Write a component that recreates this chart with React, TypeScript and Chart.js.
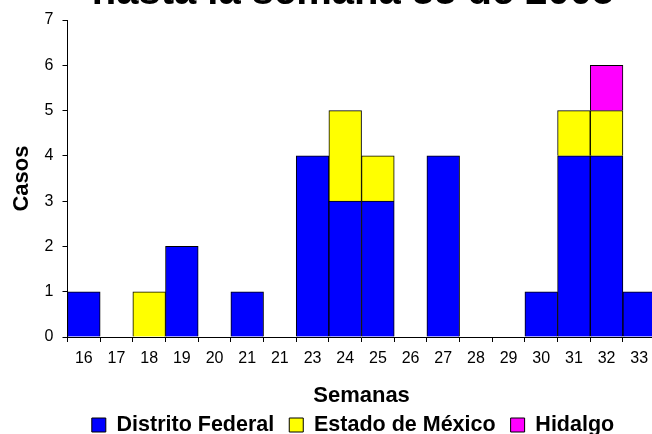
import React, { useEffect, useRef } from "react";
import { Chart, registerables } from "chart.js";

Chart.register(...registerables);

const weeks = ["16", "17", "18", "19", "20", "21", "21", "23", "24", "25", "26", "27", "28", "29", "30", "31", "32", "33"];
const distritoFederal = [1, null, null, 2, null, 1, null, 4, 3, 3, null, 4, null, null, 1, 4, 4, 1];
const estadoMexico = [null, null, 1, null, null, null, null, null, 2, 1, null, null, null, null, null, 1, 1, null];
const hidalgo = [null, null, null, null, null, null, null, null, null, null, null, null, null, null, null, null, 1, null];
const yMin = 0;
const yMax = 7;

const FONT = "'Liberation Sans', Arial, sans-serif";
const CANVAS_W = 706;
const CANVAS_H = 466;
const OFFSET_TOP = 31;

export default function App() {
  const ref = useRef<HTMLCanvasElement | null>(null);
  useEffect(() => {
    if (!ref.current) return;
    const chart = new Chart(ref.current, {
      type: "bar",
      data: {
        labels: weeks,
        datasets: [
          { label: "Distrito Federal", data: distritoFederal, backgroundColor: "#0000FF", borderColor: "#000", borderWidth: 1 },
          { label: "Estado de México", data: estadoMexico, backgroundColor: "#FFFF00", borderColor: "#000", borderWidth: 1 },
          { label: "Hidalgo", data: hidalgo, backgroundColor: "#FF00FF", borderColor: "#000", borderWidth: 1 },
        ],
      },
      options: {
        responsive: false,
        animation: false,
        devicePixelRatio: 1,
        layout: { padding: 0 },
        datasets: { bar: { barPercentage: 1, categoryPercentage: 1 } },
        plugins: {
          title: {
            display: true,
            text: "hasta la semana 33 de 2005",
            color: "#000",
            font: { family: FONT, size: 40, weight: "bold", lineHeight: 1.2 },
            padding: { top: 0, bottom: 3 },
          },
          legend: {
            position: "bottom",
            maxHeight: 35.75,
            labels: {
              color: "#000",
              font: { family: FONT, size: 21.5, weight: "bold" },
              boxWidth: 14,
              boxHeight: 14,
              padding: 15,
            },
          },
          tooltip: { enabled: false },
        },
        scales: {
          x: {
            stacked: true,
            offset: true,
            afterFit: (axis: any) => {
              axis.height = 62.25;
            },
            grid: { display: true, drawOnChartArea: false, offset: true, color: "#000", tickLength: 5, tickColor: "#000" },
            border: { color: "#000", width: 1 },
            ticks: { color: "#000", font: { family: FONT, size: 16 }, maxRotation: 0, autoSkip: false, padding: 7.4 },
            title: {
              display: true,
              text: "Semanas",
              color: "#000",
              font: { family: FONT, size: 22, weight: "bold", lineHeight: 0.34 },
              padding: { top: 0, bottom: 0 },
            },
          },
          y: {
            stacked: true,
            min: yMin,
            max: yMax,
            afterFit: (axis: any) => {
              axis.width = 67.5;
            },
            grid: { display: true, drawOnChartArea: false, color: "#000", tickLength: 5, tickColor: "#000" },
            border: { color: "#000", width: 1 },
            ticks: { color: "#000", font: { family: FONT, size: 16 }, padding: 9, stepSize: 1 },
            title: {
              display: true,
              text: "Casos",
              color: "#000",
              font: { family: FONT, size: 22, weight: "bold", lineHeight: 1.2 },
              padding: { top: 8.3, bottom: 0 },
            },
          },
          yRight: {
            type: "linear",
            position: "right",
            display: true,
            afterFit: (axis: any) => {
              axis.width = CANVAS_W - 655.6;
            },
            grid: { display: false },
            border: { display: false },
            ticks: { display: false },
          },
        },
      },
    });
    return () => chart.destroy();
  }, []);
  return (
    <div style={{ position: "fixed", left: 0, top: 0, width: 652, height: 434, overflow: "hidden", background: "#fff" }}>
      <canvas
        ref={ref}
        width={CANVAS_W}
        height={CANVAS_H}
        style={{ position: "absolute", left: 0, top: -OFFSET_TOP, display: "block" }}
      />
    </div>
  );
}
